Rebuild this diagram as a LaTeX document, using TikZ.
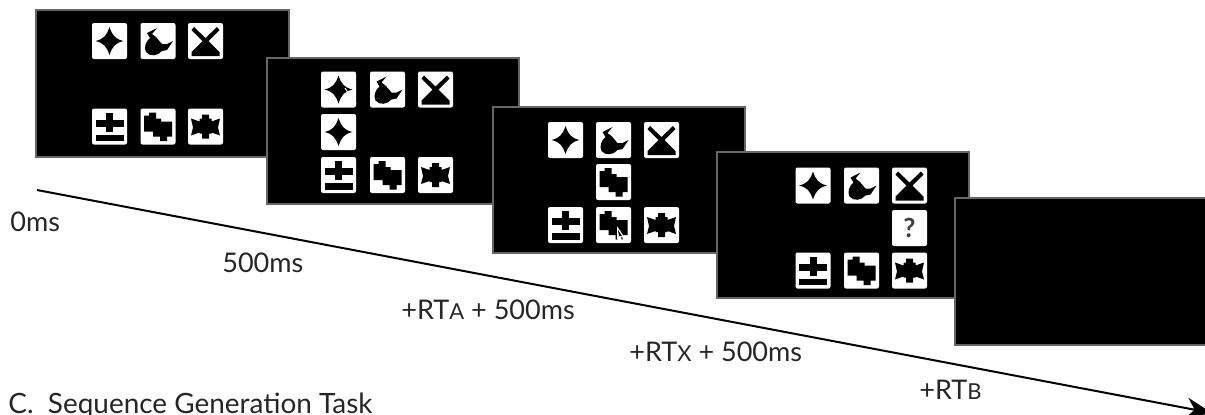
\documentclass[tikz,border=0pt]{standalone}
\usepackage{fontspec}
\setmainfont{Lato}
\usetikzlibrary{arrows.meta}
\tikzset{
  iconbox/.style={fill=white,rounded corners=0.04cm},
  pics/iconstar/.style={code={
    \path[iconbox] (-17.5,-18) rectangle (17.5,18);
    \fill (-14,0) .. controls (-6,-2) and (-3,-5) .. (0,-14) .. controls (3,-5) and (6,-2) .. (14,0)
      .. controls (6,2) and (3,5) .. (0,14) .. controls (-3,5) and (-6,2) .. (-14,0) -- cycle;
  }},
  pics/iconduck/.style={code={
    \path[iconbox] (-17.5,-18) rectangle (17.5,18);
    \fill (-1,-13) -- (-11,-8) -- (-8,-3) .. controls (-13,1) and (-14,7) .. (-12,11)
      .. controls (-8,16) and (0,15) .. (4,10) -- (9,9) -- (15,0) -- (9,3) -- (4,3) -- (-2,-4) -- (-6,-7) -- cycle;
  }},
  pics/iconglass/.style={code={
    \path[iconbox] (-17.5,-18) rectangle (17.5,18);
    \fill (-14,15) -- (14,15) -- (14,11) -- (3,0) -- (14,-11) -- (11.5,-14) -- (0,-3) -- (-11.5,-14) -- (-14,-11) -- (-3,0) -- (-14,11) -- cycle;
  }},
  pics/iconplus/.style={code={
    \path[iconbox] (-17.5,-18) rectangle (17.5,18);
    \fill (-3.5,-14) rectangle (3.5,5);
    \fill (-14,-7) rectangle (14,0);
    \fill (-14,8) rectangle (14,14.5);
  }},
  pics/iconblock/.style={code={
    \path[iconbox] (-17.5,-18) rectangle (17.5,18);
    \fill (-14,-11) -- (-9,-11) -- (-9,-14) -- (-2,-14) -- (-2,-8) -- (3,-8) -- (3,-5) -- (14,-5) -- (14,10) -- (9,10) -- (9,14.5) -- (2,14.5) -- (2,10) -- (-5,10) -- (-5,5) -- (-14,5) -- cycle;
  }},
  pics/iconbow/.style={code={
    \path[iconbox] (-17.5,-18) rectangle (17.5,18);
    \fill (-14.5,-8) -- (-6,-5) -- (-6,-8) -- (-3.5,-8) -- (-3.5,-12) -- (3.5,-12) -- (3.5,-8) -- (6,-8) -- (6,-5) -- (14.5,-8) -- (12.5,1) -- (14.5,9)
      -- (6,6) -- (6,7) -- (3.5,7) -- (3.5,12) -- (-3.5,12) -- (-3.5,7) -- (-6,7) -- (-6,6) -- (-14.5,9) -- (-12.5,1) -- cycle;
  }},
  pics/iconquery/.style={code={
    \path[iconbox] (-17.5,-18) rectangle (17.5,18);
    \node[font=\fontsize{15}{15}\selectfont\bfseries,text=black!75] (qmark) at (0,0) {?};
  }},
}
\begin{document}
\begin{tikzpicture}[x=0.02cm,y=-0.02cm]
  \tikzstyle{screen}=[draw=black!60,fill=black,line width=0.04cm,minimum width=5.06cm,minimum height=2.94cm,inner sep=0pt]
  \tikzstyle{timelabel}=[font=\fontsize{15.4}{16}\selectfont,text=black!85,inner sep=0pt]
  \useasboundingbox (0,0) rectangle (1205,414);
  \clip (0,0) rectangle (1205,414);

  % screens
  \node[screen] (s1) at (162.5,83.5) {};
  \node[screen] (s2) at (393,131) {};
  \node[screen] (s3) at (619,180) {};
  \node[screen] (s4) at (843,225) {};
  \node[screen,minimum width=5.5cm] (s5) at (1092,271.5) {};

  % first screen
  \path (109.5,41) pic {iconstar} (158,41) pic {iconduck} (205.5,41) pic {iconglass};
  \path (109.5,126.5) pic {iconplus} (158,126.5) pic {iconblock} (205.5,126.5) pic {iconbow};

  % second screen
  \path (338.5,89.5) pic {iconstar} (387.5,89.5) pic {iconduck} (435.5,89.5) pic {iconglass};
  \path (338.5,132) pic {iconstar};
  \path (338.5,175) pic {iconplus} (387.5,175) pic {iconblock} (435.5,175) pic {iconbow};
  \draw[white,line width=0.02cm] (345,88) -- (356,104);
  \fill[white] (347,99) -- (353,97) -- (353,103) -- cycle;

  % third screen
  \path (565.5,140) pic {iconstar} (613.5,140) pic {iconduck} (661.5,140) pic {iconglass};
  \path (613.5,182) pic {iconblock};
  \path (565.5,225) pic {iconplus} (613.5,225) pic {iconblock} (661.5,225) pic {iconbow};
  \fill[white] (617,226) -- (625,238) -- (621,237) -- (622,242) -- (618,243) -- (617,238) -- cycle;
  \fill[black] (618,230) -- (622,236) -- (619,236) -- cycle;

  % fourth screen
  \path (813,185.5) pic {iconstar} (861.5,185.5) pic {iconduck} (909.5,185.5) pic {iconglass};
  \path (909.5,228) pic {iconquery};
  \path (813,270.5) pic {iconplus} (861.5,270.5) pic {iconblock} (909.5,270.5) pic {iconbow};

  % time axis
  \coordinate (tstart) at (37,190);
  \coordinate (tend) at (1212,413);
  \draw[-{Stealth[length=0.52cm,width=0.42cm]},line width=0.04cm] (tstart) -- (tend);

  \node[timelabel,anchor=west] (t0) at (10,222) {0ms};
  \node[timelabel,anchor=west] (t1) at (222,263) {500ms};
  \node[timelabel,anchor=west] (t2) at (401,310) {+RT{\fontsize{12.5}{13}\selectfont A} + 500ms};
  \node[timelabel,anchor=west] (t3) at (629,352) {+RT{\fontsize{12.5}{13}\selectfont X} + 500ms};
  \node[timelabel,anchor=west] (t4) at (919,390) {+RT{\fontsize{12.5}{13}\selectfont B}};
  \node[timelabel,anchor=base west,font=\fontsize{15.9}{16}\selectfont] (title) at (8,413) {C.\ \ Sequence Generation Task};
\end{tikzpicture}
\end{document}
